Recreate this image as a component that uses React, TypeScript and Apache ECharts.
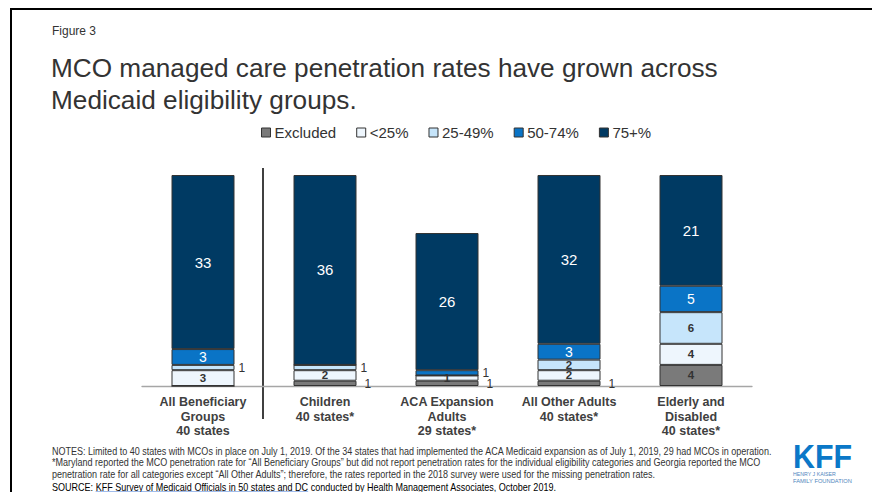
import React, { useEffect, useRef } from "react";
import * as echarts from "echarts";

// ---- data ----
const categories = [
  "All Beneficiary\nGroups\n40 states",
  "Children\n40 states*",
  "ACA Expansion\nAdults\n29 states*",
  "All Other Adults\n40 states*",
  "Elderly and\nDisabled\n40 states*",
];
const seriesNames = ["Excluded", "<25%", "25-49%", "50-74%", "75+%"];
const excluded = [0, 1, 1, 1, 4];
const under25 = [3, 2, 1, 2, 4];
const pct25to49 = [1, 1, 0, 2, 6];
const pct50to74 = [3, 0, 1, 3, 5];
const pct75plus = [33, 36, 26, 32, 21];
// [seriesIndex, categoryIndex] of values whose label sits to the right of the bar
const outsideLabels = [
  [0, 1],
  [0, 2],
  [0, 3],
  [2, 0],
  [2, 1],
  [3, 2],
];

const figureLabel = "Figure 3";
const titleLines = [
  "MCO managed care penetration rates have grown across",
  "Medicaid eligibility groups.",
];
const notesLines = [
  "NOTES: Limited to 40 states with MCOs in place on July 1, 2019. Of the 34 states that had implemented the ACA Medicaid expansion as of July 1, 2019, 29 had MCOs in operation.",
  "*Maryland reported the MCO penetration rate for \u201cAll Beneficiary Groups\u201d but did not report penetration rates for the individual eligibility categories and Georgia reported the MCO",
  "penetration rate for all categories except \u201cAll Other Adults\u201d; therefore, the rates reported in the 2018 survey were used for the missing penetration rates.",
];
const sourcePrefix = "SOURCE: ";
const sourceLink = "KFF Survey of Medicaid Officials in 50 states and DC";
const sourceSuffix = " conducted by Health Management Associates, October 2019.";

const seriesValues = [excluded, under25, pct25to49, pct50to74, pct75plus];
const colors = ["#7a7a7a", "#eef6fd", "#c6e5fb", "#0a74c6", "#003a63"];

const FONT = '"Liberation Sans", Arial, sans-serif';
const BAR_WIDTH = 63;

function measure(text: string, font: string): number {
  const c = document.createElement("canvas");
  const ctx = c.getContext("2d")!;
  ctx.font = font;
  return ctx.measureText(text).width;
}

const isOutside = (s: number, i: number) => outsideLabels.some((o) => o[0] === s && o[1] === i);

export default function App() {
  const ref = useRef<HTMLDivElement>(null);

  useEffect(() => {
    document.body.style.margin = "0";
    const chart = echarts.init(ref.current!, undefined, { renderer: "svg" });

    const innerLabelStyles = [
      { color: "#333", fontSize: 11.5, fontWeight: "bold" },
      { color: "#333", fontSize: 11.5, fontWeight: "bold" },
      { color: "#333", fontSize: 11.5, fontWeight: "bold" },
      { color: "#fff", fontSize: 14, fontWeight: "normal" },
      { color: "#fff", fontSize: 15, fontWeight: "normal" },
    ];

    const barSeries = seriesNames.map((name, s) => ({
      name,
      type: "bar",
      stack: "total",
      barWidth: BAR_WIDTH,
      itemStyle: { color: colors[s], borderColor: "#333", borderWidth: 1 },
      label: {
        show: true,
        position: "inside",
        fontFamily: FONT,
        ...innerLabelStyles[s],
        formatter: (p: any) =>
          p.value === 0 || isOutside(s, p.dataIndex) ? "" : String(p.value),
      },
      data: seriesValues[s],
    }));

    // outside labels: [category, middle of segment (stacked), value, seriesIndex]
    const outsideData = outsideLabels.map(([s, i]) => {
      let base = 0;
      for (let k = 0; k < s; k++) base += seriesValues[k][i];
      return [i, base + seriesValues[s][i] / 2, seriesValues[s][i], s];
    });

    const labelSeries = {
      name: "outside-labels",
      type: "custom",
      silent: true,
      z: 10,
      data: outsideData,
      renderItem: (_params: any, api: any) => {
        const pt = api.coord([api.value(0), api.value(1)]);
        const excl = api.value(3) === 0;
        return {
          type: "text",
          x: pt[0] + BAR_WIDTH / 2 + (excl ? 8 : 4),
          y: pt[1] + (excl ? 1 : 0),
          style: {
            text: String(api.value(2)),
            fill: "#333333",
            font: `12px ${FONT}`,
            align: "left",
            verticalAlign: "middle",
          },
        };
      },
    };

    const notesFont = 10;
    const notesFontStr = `${notesFont}px ${FONT}`;
    const notesScale = 721 / measure(notesLines[0], notesFontStr);
    const srcPrefixW = measure(sourcePrefix, notesFontStr) * notesScale;
    const srcLinkW = measure(sourceLink, notesFontStr) * notesScale;
    const kffW = measure("KFF", `bold 34px ${FONT}`);
    const famW = measure("FAMILY FOUNDATION", `6px ${FONT}`);
    const henW = measure("HENRY J KAISER", `6px ${FONT}`);

    const graphic: any[] = [
      {
        type: "rect",
        shape: { x: 11, y: 9, width: 900, height: 600 },
        style: { fill: "none", stroke: "#000", lineWidth: 2 },
        silent: true,
      },
      {
        type: "text",
        x: 52,
        y: 31,
        style: { text: figureLabel, font: `12px ${FONT}`, fill: "#333", verticalAlign: "middle" },
      },
      ...titleLines.map((t, i) => ({
        type: "text",
        x: 51,
        y: 68 + i * 32,
        style: { text: t, font: `26.2px ${FONT}`, fill: "#333", verticalAlign: "middle" },
      })),
      {
        type: "line",
        shape: { x1: 263, y1: 168, x2: 263, y2: 419 },
        style: { stroke: "#404040", lineWidth: 2 },
      },
      ...notesLines.map((t, i) => ({
        type: "text",
        x: 52,
        y: 451 + i * 11.6,
        scaleX: notesScale,
        style: { text: t, font: notesFontStr, fill: "#333", verticalAlign: "middle" },
      })),
      {
        type: "text",
        x: 52,
        y: 487.5,
        scaleX: notesScale,
        style: {
          text: `{a|${sourcePrefix}}{b|${sourceLink}}{a|${sourceSuffix}}`,
          verticalAlign: "middle",
          rich: {
            a: { fontFamily: FONT, fontSize: notesFont, color: "#333" },
            b: { fontFamily: FONT, fontSize: notesFont, color: "#1155cc" },
          },
        },
      },
      {
        type: "line",
        shape: { x1: 52 + srcPrefixW, y1: 492, x2: 52 + srcPrefixW + srcLinkW, y2: 492 },
        style: { stroke: "#1155cc", lineWidth: 0.8 },
      },
      {
        type: "text",
        x: 793,
        y: 456,
        scaleX: 59 / kffW,
        style: { text: "KFF", font: `bold 34px ${FONT}`, fill: "#0b78c8", verticalAlign: "middle" },
      },
      {
        type: "text",
        x: 793,
        y: 474,
        scaleX: 43 / henW,
        style: { text: "HENRY J KAISER", font: `6px ${FONT}`, fill: "#4f86bd", verticalAlign: "middle" },
      },
      {
        type: "text",
        x: 793,
        y: 481,
        scaleX: 59 / famW,
        style: { text: "FAMILY FOUNDATION", font: `6px ${FONT}`, fill: "#4f86bd", verticalAlign: "middle" },
      },
    ];

    chart.setOption({
      animation: false,
      backgroundColor: "#fff",
      textStyle: { fontFamily: FONT },
      legend: {
        left: 256,
        top: 120,
        itemGap: 20,
        itemWidth: 9,
        itemHeight: 9,
        icon: "rect",
        selectedMode: false,
        data: seriesNames,
        textStyle: { fontSize: 15, color: "#333", fontFamily: FONT, padding: [0, 0, 0, -1] },
        itemStyle: { borderColor: "#333", borderWidth: 1 },
      },
      grid: { left: 142, right: 120, top: 175, bottom: 106, containLabel: false },
      xAxis: {
        type: "category",
        data: categories,
        axisTick: { show: false },
        axisLine: { lineStyle: { color: "#a6a6a6", width: 1.3 } },
        axisLabel: {
          interval: 0,
          margin: 9,
          fontSize: 12.5,
          fontWeight: "bold",
          color: "#404040",
          lineHeight: 14.5,
          fontFamily: FONT,
        },
      },
      yAxis: { type: "value", min: 0, max: 40, show: false },
      series: [...barSeries, labelSeries],
      graphic,
    });

    return () => chart.dispose();
  }, []);

  return (
    <div
      ref={ref}
      style={{ position: "absolute", left: 0, top: 0, width: 872, height: 492 }}
    />
  );
}
